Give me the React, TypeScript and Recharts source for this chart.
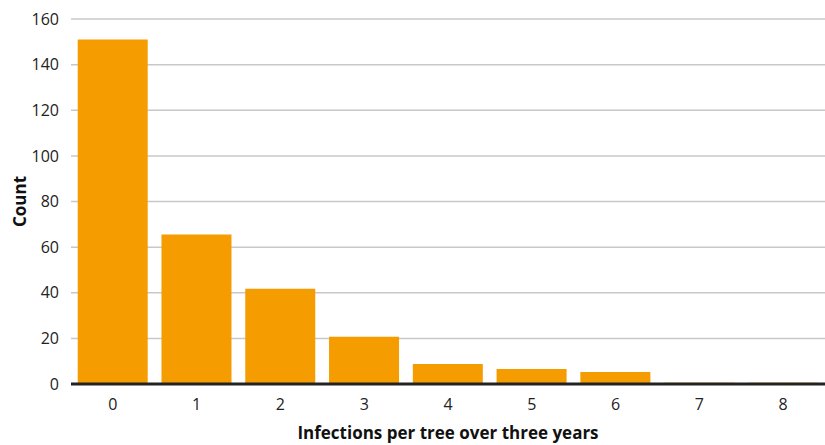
import { BarChart, Bar, XAxis, YAxis, CartesianGrid, Label } from 'recharts'

const infections = ['0', '1', '2', '3', '4', '5', '6', '7', '8']
const counts = [151, 65.5, 41.7, 20.7, 8.8, 6.6, 5.3, 0.5, 0.5]
const yTicks = [0, 20, 40, 60, 80, 100, 120, 140, 160]

const data = infections.map((label, i) => ({ label, count: counts[i] }))

const font = '"Open Sans", "Noto Sans", sans-serif'

export default function App() {
  return (
    <div style={{ position: 'absolute', left: 0, top: 0, fontFamily: font }}>
      <BarChart
        width={825}
        height={445}
        data={data}
        margin={{ top: 19, right: 0, bottom: 0, left: 0 }}
        barCategoryGap="8%"
      >
        <CartesianGrid vertical={false} stroke="#c8c8c8" strokeWidth={1.5} />
        <XAxis
          dataKey="label"
          height={61}
          tickSize={0}
          tickMargin={15}
          tick={{ fill: '#222', fontSize: 16, fontFamily: font }}
          axisLine={{ stroke: '#222', strokeWidth: 3 }}
        >
          <Label
            value="Infections per tree over three years"
            position="insideBottom"
            offset={6}
            style={{ fill: '#111', fontSize: 17, fontWeight: 700, fontFamily: font }}
          />
        </XAxis>
        <YAxis
          width={71}
          domain={[0, 160]}
          ticks={yTicks}
          axisLine={false}
          tickSize={0}
          tickMargin={12}
          tick={{ fill: '#222', fontSize: 16, fontFamily: font }}
        >
          <Label
            value="Count"
            angle={-90}
            position="insideLeft"
            offset={20}
            style={{ fill: '#111', fontSize: 17, fontWeight: 700, fontFamily: font, textAnchor: 'middle' }}
          />
        </YAxis>
        <Bar dataKey="count" fill="#f59c00" isAnimationActive={false} />
      </BarChart>
    </div>
  )
}
